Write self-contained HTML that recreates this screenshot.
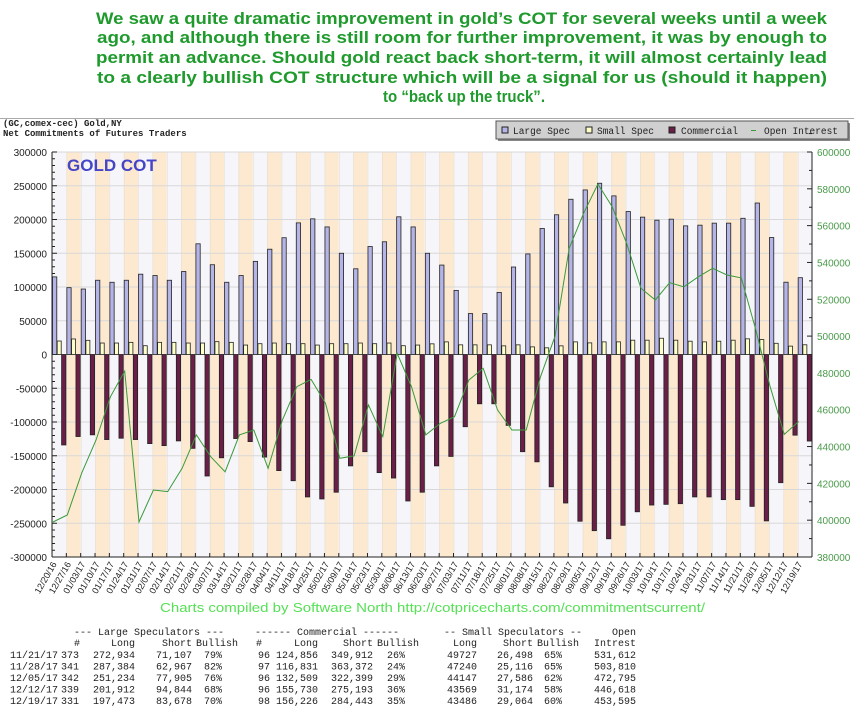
<!DOCTYPE html>
<html><head><meta charset="utf-8"><style>
html,body{margin:0;padding:0;background:#fff}
svg{display:block}
.t{font-family:"Liberation Sans",sans-serif}
.m{font-family:"Liberation Mono",monospace}
</style></head><body>
<svg id="svg" width="854" height="721" viewBox="0 0 854 721" xmlns="http://www.w3.org/2000/svg">
<g class="t" font-weight="bold" font-size="17" fill="#1f9a2c">
<text x="96" y="24" textLength="731" lengthAdjust="spacingAndGlyphs">We saw a quite dramatic improvement in gold’s COT for several weeks until a week</text>
<text x="97" y="43" textLength="730" lengthAdjust="spacingAndGlyphs">ago, and although there is still room for further improvement, it was by enough to</text>
<text x="96" y="63" textLength="731" lengthAdjust="spacingAndGlyphs">permit an advance. Should gold react back short-term, it will almost certainly lead</text>
<text x="97" y="83" textLength="730" lengthAdjust="spacingAndGlyphs">to a clearly bullish COT structure which will be a signal for us (should it happen)</text>
<text x="464" y="102" text-anchor="middle" textLength="162" lengthAdjust="spacingAndGlyphs">to “back up the truck”.</text>
</g>
<line x1="0" y1="118.5" x2="854" y2="118.5" stroke="#aaa"/>
<text x="3" y="126" class="m" font-size="9" font-weight="bold" fill="#222">(GC,comex-cec) Gold,NY</text>
<text x="3" y="136" class="m" font-size="9" font-weight="bold" fill="#222">Net Commitments of Futures Traders</text>
<g>
<rect x="498" y="123" width="352" height="18" fill="#888"/>
<rect x="496" y="121" width="352" height="18" fill="#d0d0d0" stroke="#555"/>
<rect x="502" y="127" width="6" height="6" fill="#b4b4e6" stroke="#222"/>
<text x="513" y="134" class="m" font-size="10" fill="#222" textLength="57" lengthAdjust="spacingAndGlyphs">Large Spec</text>
<rect x="586" y="127" width="6" height="6" fill="#ffffc8" stroke="#222"/>
<text x="597" y="134" class="m" font-size="10" fill="#222" textLength="57" lengthAdjust="spacingAndGlyphs">Small Spec</text>
<rect x="669" y="127" width="6" height="6" fill="#6b1f48" stroke="#222"/>
<text x="681" y="134" class="m" font-size="10" fill="#222" textLength="57" lengthAdjust="spacingAndGlyphs">Commercial</text>
<line x1="751" y1="130.5" x2="756" y2="130.5" stroke="#3a9a3a"/>
<text x="764" y="134" class="m" font-size="10" fill="#222" textLength="74" lengthAdjust="spacingAndGlyphs">Open Interest</text>
</g>
<g id="plot"></g>
<text x="160" y="612" class="t" font-size="13" fill="#55e055" textLength="545" lengthAdjust="spacingAndGlyphs">Charts compiled by Software North  http://cotpricecharts.com/commitmentscurrent/</text>
<g id="table" class="m" font-size="10" fill="#222"></g>
</svg>
<script>
const dates=["12/20/16","12/27/16","01/03/17","01/10/17","01/17/17","01/24/17","01/31/17","02/07/17","02/14/17","02/21/17","02/28/17","03/07/17","03/14/17","03/21/17","03/28/17","04/04/17","04/11/17","04/18/17","04/25/17","05/02/17","05/09/17","05/16/17","05/23/17","05/30/17","06/06/17","06/13/17","06/20/17","06/27/17","07/03/17","07/11/17","07/18/17","07/25/17","08/01/17","08/08/17","08/15/17","08/22/17","08/29/17","09/05/17","09/12/17","09/19/17","09/26/17","10/03/17","10/10/17","10/17/17","10/24/17","10/31/17","11/07/17","11/14/17","11/21/17","11/28/17","12/05/17","12/12/17","12/19/17"];
const largeSpec=[115,99,97,110,107,110,119,117,110,123,164,133,107,117,138,156,173,195,201,189,150,127,160,167,204,189,150,132.5,95,60.6,60.6,92,129.6,149,186.7,207,230,243.8,253.7,235,211.8,203.5,199,200.5,190.6,191.6,194.6,194.6,201.8,224.4,173.3,107.1,113.8];
const smallSpec=[20,23,21,17,17,18,13,18,18,17,17,19,18,14,16,17,16,16,14,16,16,17,16,17,13,14,15.8,18.7,14.3,14.3,14.3,12.8,14.3,11.3,9.9,12.8,18.7,17.2,18.7,18.7,21.2,21.2,24.1,21.2,19.7,18.7,19.7,21.2,23.2,22.1,16.6,12.4,14.4];
const commercial=[-134,-121.5,-119,-126,-124,-126,-132,-135,-128,-139,-180,-153,-124.5,-129,-152,-172,-187,-211,-214,-204,-165,-144,-175,-183,-217,-204,-165,-151,-107,-73,-73,-105,-144,-159,-196,-220,-247,-261,-273,-253,-233,-223,-222,-221,-211,-211,-215,-215,-225,-246.5,-189.9,-119.5,-128.2];
const openInterest=[399,402.8,425.6,443.5,467,481,399,416.4,415.5,428.2,446.3,434.5,426.3,446.3,449,428.2,454.4,472.5,476.5,463.5,433.6,434.9,462.6,445.4,490.6,472.5,446.3,452.6,456.2,476.1,482.5,459.9,449,449,477.9,499.7,547.7,566.7,582.6,570.3,550.4,526,519.6,529,526.8,532.2,536.8,533.2,531.6,503.8,472.8,446.6,453.6];
const leftTicks=[300000,250000,200000,150000,100000,50000,0,-50000,-100000,-150000,-200000,-250000,-300000];
const rightTicks=[600000,580000,560000,540000,520000,500000,480000,460000,440000,420000,400000,380000];

const NS="http://www.w3.org/2000/svg";
const X0=52,X1=812,YT=152,YB=557;
const W=(X1-X0)/dates.length;
function yL(v){return YT+(300000-v)/600000*(YB-YT);}
function yR(v){return YT+(600000-v)/220000*(YB-YT);}
function xC(i){return X0+i*W;}
function mk(tag,attrs,parent){const e=document.createElementNS(NS,tag);for(const k in attrs)e.setAttribute(k,attrs[k]);parent.appendChild(e);return e;}
const plot=document.getElementById('plot');

for(let i=0;i<dates.length;i++){
  const b=mk('rect',{x:xC(i),y:YT,width:W,height:YB-YT,fill:(i%2?'#fde9d0':'#f6f6fa')},plot);
  
  
  const g=mk('line',{x1:xC(i)+0.5,y1:YT,x2:xC(i)+0.5,y2:YB,stroke:'#e4ddd6','stroke-width':0.6},plot);
  
  
}
leftTicks.forEach(v=>{
  const l=mk('line',{x1:X0,y1:yL(v),x2:X1,y2:yL(v),stroke:'#d8d8d8','stroke-width':1},plot);
  
  
  const t=mk('text',{x:47,y:yL(v)+4,'text-anchor':'end','font-size':10,fill:'#222',class:'t'},plot);
  t.textContent=v;
  
  
});
for(let v=-300000;v<=300000;v+=10000){
  mk('line',{x1:X0,y1:yL(v),x2:X0+(v%50000===0?5:3),y2:yL(v),stroke:'#222'},plot);
}
rightTicks.forEach(v=>{
  const t=mk('text',{x:817,y:yR(v)+4,'font-size':10,fill:'#4a9a4a',class:'t'},plot);
  t.textContent=v;
  
  
  mk('line',{x1:X1-5,y1:yR(v),x2:X1,y2:yR(v),stroke:'#222'},plot);
  mk('line',{x1:X1-3,y1:yR(v+10000),x2:X1,y2:yR(v+10000),stroke:'#222'},plot);
});
for(let i=0;i<dates.length;i++){
  const x=xC(i);
  const r1=mk('rect',{x:x+0.5,y:yL(largeSpec[i]*1000),width:4.3,height:yL(0)-yL(largeSpec[i]*1000),fill:'#b4b4e6',stroke:'#222','stroke-width':0.8},plot);
  
  
  const r2=mk('rect',{x:x+5.2,y:yL(smallSpec[i]*1000),width:4,height:yL(0)-yL(smallSpec[i]*1000),fill:'#ffffc8',stroke:'#222','stroke-width':0.8},plot);
  
  
  const r3=mk('rect',{x:x+9.6,y:yL(0),width:4.3,height:yL(commercial[i]*1000)-yL(0),fill:'#6b1f48',stroke:'#222','stroke-width':0.8},plot);
  
  
}
const pts=openInterest.map((v,i)=>(xC(i)+1).toFixed(1)+','+yR(v*1000).toFixed(1)).join(' ');
const pl=mk('polyline',{points:pts,fill:'none',stroke:'#3a9a3a','stroke-width':1},plot);


mk('line',{x1:X0,y1:YT,x2:X0,y2:YB,stroke:'#222'},plot);
mk('line',{x1:X1,y1:YT,x2:X1,y2:YB,stroke:'#222'},plot);
mk('line',{x1:X0,y1:YB,x2:X1,y2:YB,stroke:'#222'},plot);
for(let i=0;i<dates.length;i++){
  const x=xC(i)+W;
  mk('line',{x1:x,y1:YB-4,x2:x,y2:YB,stroke:'#222'},plot);
  const tx=xC(i)+5;
  const t=mk('text',{x:tx,y:YB+7,'text-anchor':'end','font-size':9,fill:'#222',class:'t',transform:'rotate(-60 '+tx+' '+(YB+7)+')'},plot);
  t.textContent=dates[i];
  
  
}
const gt=mk('text',{x:67,y:171,'font-size':17,'font-weight':'bold',fill:'#4545c8',class:'t'},plot);
gt.textContent='GOLD COT';



const tbl=document.getElementById('table');
function cell(txt,x,y,anchor){const t=mk('text',{x:x,y:y,'text-anchor':anchor||'end','xml:space':'preserve'},tbl);t.textContent=txt;return t;}
cell('--- Large Speculators ---',74,635,'start');
cell('------ Commercial ------',255,635,'start');
cell('-- Small Speculators --',444,635,'start');
cell('Open',636,635);
const h2=[['#',80],['Long',135],['Short',192],['Bullish',238],['#',262],['Long',318],['Short',373],['Bullish',419],['Long',477],['Short',533],['Bullish',579],['Intrest',636]];
h2.forEach(h=>cell(h[0],h[1],646));
const rows=[
["11/21/17","373","272,934","71,107","79%","96","124,856","349,912","26%","49727","26,498","65%","531,612"],
["11/28/17","341","287,384","62,967","82%","97","116,831","363,372","24%","47240","25,116","65%","503,810"],
["12/05/17","342","251,234","77,905","76%","96","132,509","322,399","29%","44147","27,586","62%","472,795"],
["12/12/17","339","201,912","94,844","68%","96","155,730","275,193","36%","43569","31,174","58%","446,618"],
["12/19/17","331","197,473","83,678","70%","98","156,226","284,443","35%","43486","29,064","60%","453,595"]];
const colX=[58,79,135,192,222,270,318,373,405,477,533,562,636];
rows.forEach((r,k)=>{const y=658+k*11.5;r.forEach((v,j)=>cell(v,colX[j],y));});
</script>
</body></html>
